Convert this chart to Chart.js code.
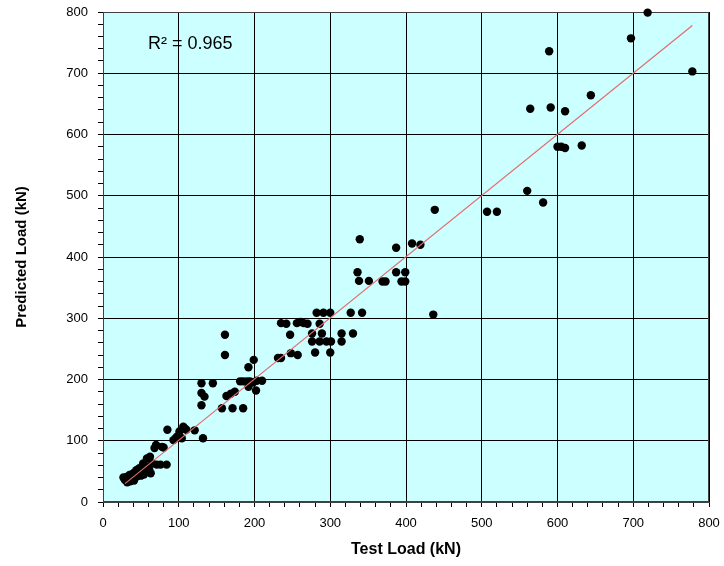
<!DOCTYPE html>
<html>
<head>
<meta charset="utf-8">
<script src="https://cdn.jsdelivr.net/npm/chart.js@4"></script>
<style>
html,body{margin:0;padding:0;background:#fff;}
#wrap{width:724px;height:566px;}
</style>
</head>
<body>
<div id="wrap"><canvas id="c" width="724" height="566"></canvas></div>
<script>
// ---- data ----
const testLoad = [
  27,29,31,32,33,35,36,38,40,41,42,44,45,47,48,50,51,53,54,56,57,58,60,61,62,63,65,68,70,71,76,78,80,84,85,93,96,98,101,104,106,108,110,121,132,
  130,145,130,134,130,157,171,185,163,169,174,161,161,181,185,190,194,198,203,210,192,202,192,199,231,235,248,257,247,
  235,242,256,261,265,270,286,276,289,315,315,276,286,295,301,280,300,282,291,300,327,342,330,
  336,338,351,369,373,387,399,394,399,339,387,408,419,436,438,
  507,520,560,581,564,591,610,600,605,610,632,644,589,697,719,778
];
const predictedLoad = [
  40,36,41,32,38,44,34,37,47,35,40,52,42,45,55,43,48,63,45,49,58,71,51,53,74,47,63,88,93,61,61,90,89,61,118,101,104,107,115,104,123,120,118,117,104,
  194,194,178,172,158,153,153,153,173,177,180,273,240,197,197,197,197,195,198,198,188,182,220,232,235,235,243,240,273,
  292,291,292,294,292,291,291,275,275,275,262,262,262,262,262,244,244,309,309,309,309,309,275,
  375,361,361,360,360,375,375,360,360,429,415,422,420,306,477,
  474,474,508,489,642,644,638,580,580,578,582,664,736,757,799,703
];
// trend line end points
const trendX = [29, 778];
const trendY = [30, 778];
const r2Label = 'R² = 0.965';
const xTitle = 'Test Load (kN)';
const yTitle = 'Predicted Load (kN)';
const axisMin = 0, axisMax = 800, majorStep = 100, minorStep = 20;

const points = testLoad.map((x, i) => ({x: x, y: predictedLoad[i]}));
const trend = trendX.map((x, i) => ({x: x, y: trendY[i]}));

const plotBg = {
  id: 'plotBg',
  beforeDraw(chart) {
    const {ctx, chartArea: a} = chart;
    ctx.save();
    ctx.fillStyle = '#CCFFFF';
    ctx.fillRect(a.left, a.top, a.right - a.left, a.bottom - a.top);
    ctx.restore();
  },
  beforeDatasetsDraw(chart) {
    const {ctx, chartArea: a} = chart;
    ctx.save();
    ctx.strokeStyle = '#404040';
    ctx.lineWidth = 1;
    ctx.strokeRect(a.left + 0.5, a.top + 0.5, a.right - a.left - 1, a.bottom - a.top - 1);
    ctx.fillStyle = '#000';
    ctx.font = '18px "Liberation Sans", Arial, sans-serif';
    ctx.textBaseline = 'alphabetic';
    ctx.fillText(r2Label, a.left + 45, a.top + 37);
    ctx.restore();
  }
};

const tickFont = {family: '"Liberation Sans", Arial, sans-serif', size: 13};
const yTitleFont = {family: '"Liberation Sans", Arial, sans-serif', size: 15, weight: 'bold'};
const xTitleFont = {family: '"Liberation Sans", Arial, sans-serif', size: 16, weight: 'bold'};
const majorOnly = v => (v % majorStep === 0 ? String(v) : '');
const gridColor = ctx => (ctx.tick && ctx.tick.value % majorStep === 0 ? '#000' : 'rgba(0,0,0,0)');

new Chart(document.getElementById('c'), {
  type: 'scatter',
  data: {
    datasets: [
      {
        data: trend,
        showLine: true,
        borderColor: '#E46C6C',
        borderWidth: 1.2,
        pointRadius: 0,
        fill: false,
        order: 0
      },
      {
        data: points,
        backgroundColor: '#000',
        borderColor: '#000',
        pointRadius: 4.2,
        pointBorderWidth: 0,
        showLine: false,
        clip: false,
        order: 1
      }
    ]
  },
  options: {
    responsive: false,
    animation: false,
    layout: {padding: {left: 0, right: 15, top: 12, bottom: 0}},
    plugins: {legend: {display: false}, tooltip: {enabled: false}},
    scales: {
      x: {
        type: 'linear',
        min: axisMin, max: axisMax,
        afterFit(s) { s.height = 64; s.paddingLeft = 0; s.paddingRight = 0; },
        ticks: {stepSize: minorStep, autoSkip: false, maxRotation: 0, maxTicksLimit: 100,
                callback: majorOnly, font: tickFont, color: '#000', padding: 9},
        grid: {color: gridColor, tickColor: '#000', tickLength: 5, lineWidth: 1},
        border: {color: '#404040'},
        title: {display: true, text: xTitle, font: xTitleFont, color: '#000', padding: {top: 4, bottom: 7}}
      },
      y: {
        type: 'linear',
        min: axisMin, max: axisMax,
        afterFit(s) { s.width = 103; s.paddingTop = 0; s.paddingBottom = 0; },
        ticks: {stepSize: minorStep, autoSkip: false, maxTicksLimit: 100,
                callback: majorOnly, font: tickFont, color: '#000', padding: 10},
        grid: {color: gridColor, tickColor: '#000', tickLength: 5, lineWidth: 1},
        border: {color: '#404040'},
        title: {display: true, text: yTitle, font: yTitleFont, color: '#000', padding: {top: 13, bottom: 4}}
      }
    }
  },
  plugins: [plotBg]
});
</script>
</body>
</html>
